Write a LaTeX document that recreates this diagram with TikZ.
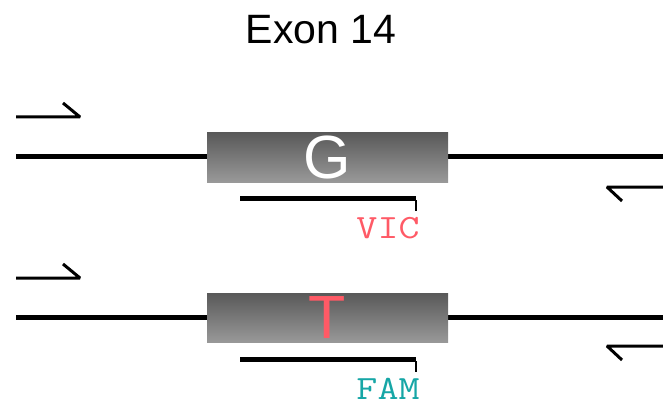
\documentclass[tikz,border=0pt]{standalone}
\usepackage{fontspec}
\usepackage{graphicx}
\setmainfont{Liberation Sans}
\definecolor{vicred}{HTML}{FF5A66}
\definecolor{famteal}{HTML}{16A6A6}
\newcommand{\dyelabel}[1]{\scalebox{1.2}[1]{\fontsize{34}{34}\selectfont\ttfamily #1}}
\tikzset{
  track/.style={line width=5pt},
  primer/.style={line width=3pt, line join=bevel},
  probe/.style={line width=5pt},
  tick/.style={line width=1.5pt},
  exonbox/.style={draw=none, top color=black!65, bottom color=black!40, minimum width=241pt, minimum height=49pt, inner sep=0pt, outer sep=0pt},
  dye/.style={anchor=base, inner sep=0pt},
}
\begin{document}
\begin{tikzpicture}[x=1pt,y=-1pt]
\useasboundingbox (0,0) rectangle (663,406);
\node (title) at (321,30) {\fontsize{41}{48}\selectfont Exon 14};
% ---- top track
\coordinate (t1l) at (16,156.5);
\coordinate (t1r) at (663,156.5);
\draw[track] (t1l) -- (t1r);
\node[exonbox] (box1) at (327.5,157.5) {};
\node[text=white] (g) at (box1.center) {\fontsize{61}{61}\selectfont G};
\coordinate (f1a) at (16,117);
\coordinate (f1b) at (80,117);
\coordinate (f1c) at (63,103);
\draw[primer] (f1a) -- (f1b) -- (f1c);
\coordinate (r1a) at (663,187);
\coordinate (r1b) at (607,187);
\coordinate (r1c) at (622,201);
\draw[primer] (r1a) -- (r1b) -- (r1c);
\coordinate (p1a) at (240,198);
\coordinate (p1b) at (416,198);
\coordinate (p1c) at (416,211);
\draw[probe] (p1a) -- (p1b);
\draw[tick] ([yshift=-2pt]p1b) -- (p1c);
\node[dye, text=vicred] (vic) at (388,238.5) {\dyelabel{VIC}};
% ---- bottom track
\coordinate (t2l) at (16,317.5);
\coordinate (t2r) at (663,317.5);
\draw[track] (t2l) -- (t2r);
\node[exonbox] (box2) at (327.5,318) {};
\node[text=vicred] (t) at (box2.center) {\fontsize{61}{61}\selectfont T};
\coordinate (f2a) at (16,278);
\coordinate (f2b) at (80,278);
\coordinate (f2c) at (63,264);
\draw[primer] (f2a) -- (f2b) -- (f2c);
\coordinate (r2a) at (663,346);
\coordinate (r2b) at (607,346);
\coordinate (r2c) at (622,360);
\draw[primer] (r2a) -- (r2b) -- (r2c);
\coordinate (p2a) at (240,359);
\coordinate (p2b) at (416,359);
\coordinate (p2c) at (416,372);
\draw[probe] (p2a) -- (p2b);
\draw[tick] ([yshift=-2pt]p2b) -- (p2c);
\node[dye, text=famteal] (fam) at (388,399.5) {\dyelabel{FAM}};
\end{tikzpicture}
\end{document}
